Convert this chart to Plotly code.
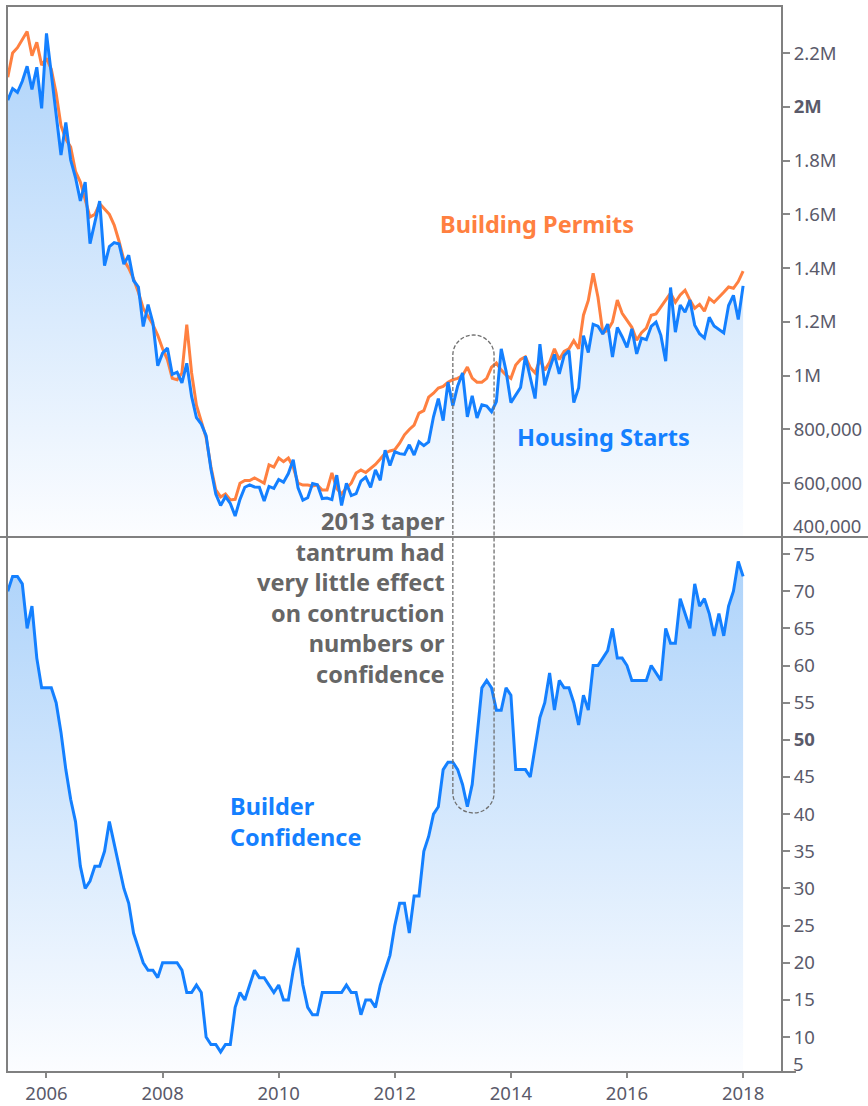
import plotly.graph_objects as go
from plotly.subplots import make_subplots

# ---------------- data (monthly, May 2005 -> Jan 2018) ----------------
START_YEAR = 2005
START_MONTH = 5

# Housing starts, thousands (SAAR)
housing_starts = [
    2025, 2068, 2054, 2095, 2151, 2065, 2147, 1994,
    2273, 2119, 1969, 1821, 1942, 1802, 1737, 1650, 1720, 1491, 1570, 1649,
    1409, 1480, 1495, 1490, 1415, 1448, 1354, 1330, 1183, 1264, 1197, 1037,
    1084, 1103, 1005, 1013, 973, 1046, 923, 844, 820, 777, 652, 560,
    517, 550, 525, 478, 540, 585, 594, 586, 585, 534, 588, 581,
    614, 604, 636, 687, 583, 537, 546, 599, 594, 543, 545, 539,
    630, 517, 600, 554, 561, 608, 623, 585, 650, 611, 723, 666,
    717, 710, 707, 743, 705, 754, 740, 754, 847, 915, 833, 976,
    888, 962, 1010, 847, 925, 843, 892, 887, 866, 904, 1100, 1017,
    900, 928, 956, 1072, 999, 915, 1117, 964, 1026, 1079, 1007, 1075,
    1093, 900, 954, 1149, 1086, 1191, 1184, 1155, 1192, 1069, 1179, 1145,
    1105, 1174, 1081, 1140, 1134, 1183, 1199, 1150, 1054, 1328, 1162, 1263,
    1236, 1281, 1188, 1156, 1140, 1217, 1185, 1172, 1159, 1261, 1299, 1209,
    1334,
]

# Building permits, thousands (SAAR)
building_permits = [
    2110, 2200, 2220, 2250, 2280, 2190, 2240, 2155,
    2180, 2140, 2050, 1930, 1880, 1850, 1760, 1720, 1650, 1590, 1600, 1640,
    1620, 1600, 1560, 1500, 1430, 1400, 1360, 1310, 1250, 1220, 1190, 1150,
    1100, 1060, 990, 985, 1010, 1190, 1010, 890, 825, 770, 660, 575,
    549, 560, 538, 540, 600, 610, 610, 620, 610, 600, 668, 660,
    694, 680, 694, 660, 600, 593, 593, 590, 593, 575, 575, 638,
    580, 560, 582, 600, 638, 649, 640, 656, 670, 690, 712, 720,
    725, 749, 780, 800, 816, 861, 870, 920, 935, 954, 960, 976,
    985, 990, 1000, 1032, 991, 976, 976, 990, 1032, 1047, 1021, 1002,
    990, 1040, 1060, 1070, 1030, 1010, 1060, 1020, 1050, 1100, 1060, 1090,
    1100, 1130, 1100, 1225, 1280, 1381, 1292, 1160, 1169, 1200, 1281, 1232,
    1206, 1180, 1132, 1160, 1177, 1225, 1230, 1255, 1280, 1307, 1273, 1300,
    1318, 1281, 1251, 1265, 1240, 1288, 1273, 1290, 1310, 1330, 1325, 1350,
    1389,
]

# NAHB builder confidence index
builder_confidence = [
    70, 72, 72, 71, 65, 68, 61, 57,
    57, 57, 55, 51, 46, 42, 39, 33, 30, 31, 33, 33,
    35, 39, 36, 33, 30, 28, 24, 22, 20, 19, 19, 18,
    20, 20, 20, 20, 19, 16, 16, 17, 16, 10, 9, 9,
    8, 9, 9, 14, 16, 15, 17, 19, 18, 18, 17, 16,
    17, 15, 15, 19, 22, 17, 14, 13, 13, 16, 16, 16,
    16, 16, 17, 16, 16, 13, 15, 15, 14, 17, 19, 21,
    25, 28, 28, 24, 29, 29, 35, 37, 40, 41, 46, 47,
    47, 46, 44, 41, 44, 51, 57, 58, 57, 54, 54, 57,
    56, 46, 46, 46, 45, 49, 53, 55, 59, 54, 58, 57,
    57, 55, 52, 56, 54, 60, 60, 61, 62, 65, 61, 61,
    60, 58, 58, 58, 58, 60, 59, 58, 65, 63, 63, 69,
    67, 65, 71, 68, 69, 67, 64, 67, 64, 68, 70, 74,
    72,
]

x_tick_years = [2006, 2008, 2010, 2012, 2014, 2016, 2018]
top_tick_vals = [600, 800, 1000, 1200, 1400, 1600, 1800, 2000, 2200]
top_tick_text = ["600,000", "800,000", "1M", "1.2M", "1.4M", "1.6M", "1.8M", "<b>2M</b>", "2.2M"]
bot_tick_vals = [10, 15, 20, 25, 30, 35, 40, 45, 50, 55, 60, 65, 70, 75]
bot_tick_text = [("<b>50</b>" if v == 50 else str(v)) for v in bot_tick_vals]

months = [START_YEAR + (START_MONTH - 1 + i) / 12 for i in range(len(housing_starts))]

# ---------------- style ----------------
BLUE = "#1480ff"
ORANGE = "#ff8040"
GRAY_TXT = "#666666"
TICK_COL = "#5a5a6a"
FRAME = "#808080"
FONT = "Noto Sans"

X_RANGE = [2005.32, 2018.67]
TOP_RANGE = [400, 2375]
BOT_RANGE = [5.3, 77.3]
SPLIT = 535 / 1066

fig = make_subplots(rows=2, cols=1, shared_xaxes=True, vertical_spacing=0)

grad = [[0, "#fcfdff"], [1, "#aad1fa"]]
LW = 3

# top panel: fill under housing starts, then permits line, then starts line
fig.add_trace(go.Scatter(x=months, y=housing_starts, mode="lines", line=dict(width=0, color=BLUE),
                         fill="tozeroy",
                         fillgradient=dict(type="vertical", colorscale=grad,
                                           start=TOP_RANGE[0], stop=TOP_RANGE[1]),
                         showlegend=False, hoverinfo="skip"), row=1, col=1)
fig.add_trace(go.Scatter(x=months, y=building_permits, mode="lines",
                         line=dict(width=LW, color=ORANGE), name="Building Permits",
                         showlegend=False), row=1, col=1)
fig.add_trace(go.Scatter(x=months, y=housing_starts, mode="lines",
                         line=dict(width=LW, color=BLUE), name="Housing Starts",
                         showlegend=False), row=1, col=1)

# bottom panel
fig.add_trace(go.Scatter(x=months, y=builder_confidence, mode="lines",
                         line=dict(width=LW, color=BLUE), fill="tozeroy",
                         fillgradient=dict(type="vertical", colorscale=grad,
                                           start=BOT_RANGE[0], stop=BOT_RANGE[1]),
                         name="Builder Confidence", showlegend=False), row=2, col=1)

tickfont = dict(family=FONT, size=18.5, color=TICK_COL)

fig.update_xaxes(range=X_RANGE, showgrid=False, zeroline=False, showline=False, automargin=False)
fig.update_xaxes(showticklabels=False, ticks="", row=1, col=1)
fig.update_xaxes(tickvals=x_tick_years, ticktext=[str(y) for y in x_tick_years],
                 ticks="outside", ticklen=5, tickwidth=1.5, tickcolor="#888888",
                 tickfont=tickfont, row=2, col=1)

fig.update_layout(
    yaxis=dict(domain=[SPLIT, 1], side="right", range=TOP_RANGE, tickvals=top_tick_vals,
               ticktext=top_tick_text, ticks="outside", ticklen=7, tickwidth=1.5,
               tickcolor="#888888", tickfont=tickfont, showgrid=False, zeroline=False,
               automargin=False),
    yaxis2=dict(domain=[0, SPLIT], side="right", range=BOT_RANGE, tickvals=bot_tick_vals,
                ticktext=bot_tick_text, ticks="outside", ticklen=7, tickwidth=1.5,
                tickcolor="#888888", tickfont=tickfont, showgrid=False, zeroline=False,
                automargin=False),
)

# edge tick labels shifted inside the panel as in the original
fig.add_annotation(text="400,000", x=1, xref="paper", xanchor="left", xshift=9,
                   y=SPLIT, yref="paper", yanchor="middle", yshift=12,
                   showarrow=False, font=tickfont)
fig.add_annotation(text="5", x=1, xref="paper", xanchor="left", xshift=9,
                   y=0, yref="paper", yanchor="middle", yshift=9,
                   showarrow=False, font=tickfont)

# series labels
bold = dict(family=FONT, size=23.5)
fig.add_annotation(text="<b>Building Permits</b>", x=2014.45, y=1564, xref="x", yref="y",
                   showarrow=False, font=dict(bold, color=ORANGE))
fig.add_annotation(text="<b>Housing Starts</b>", x=2015.59, y=772, xref="x", yref="y",
                   showarrow=False, font=dict(bold, color=BLUE))
fig.add_annotation(text="<b>Builder<br>Confidence</b>", x=2009.12, y=39.0, xref="x2", yref="y2",
                   xanchor="left", align="left", showarrow=False, font=dict(bold, color=BLUE))
fig.add_annotation(text="<b>2013 taper<br>tantrum had<br>very little effect<br>on contruction<br>numbers or<br>confidence</b>",
                   x=2012.90, y=(1072 - 597) / 1066, xref="x", yref="paper",
                   xanchor="right", align="right", showarrow=False,
                   font=dict(bold, color=GRAY_TXT))

# dashed rounded highlight around 2013
x0, x1 = 2013.00, 2013.71
yT, yB = (1072 - 335) / 1066, (1072 - 813) / 1066
rx = (x1 - x0) / 2
ry = 20 / 1066
xc = (x0 + x1) / 2
k = 0.5523
path = (
    f"M {x0},{yB + ry} L {x0},{yT - ry} "
    f"C {x0},{yT - ry + k * ry} {xc - k * rx},{yT} {xc},{yT} "
    f"C {xc + k * rx},{yT} {x1},{yT - ry + k * ry} {x1},{yT - ry} "
    f"L {x1},{yB + ry} "
    f"C {x1},{yB + ry - k * ry} {xc + k * rx},{yB} {xc},{yB} "
    f"C {xc - k * rx},{yB} {x0},{yB + ry - k * ry} {x0},{yB + ry} Z"
)
fig.add_shape(type="path", path=path, xref="x", yref="paper",
              line=dict(color="#707070", width=1.3, dash="4px,2px"))

# frame and divider
fig.add_shape(type="rect", x0=0, x1=1, y0=0, y1=1, xref="paper", yref="paper",
              line=dict(color=FRAME, width=2))
fig.add_shape(type="line", x0=-0.01, x1=1.12, y0=SPLIT, y1=SPLIT, xref="paper", yref="paper",
              line=dict(color=FRAME, width=2))
fig.add_shape(type="line", x0=0, x1=1.018, y0=0, y1=0, xref="paper", yref="paper",
              line=dict(color=FRAME, width=2))

fig.update_layout(
    width=868, height=1106,
    margin=dict(l=7, r=86, t=6, b=34, autoexpand=False),
    paper_bgcolor="white", plot_bgcolor="white",
    showlegend=False,
    font=dict(family=FONT),
)

fig.write_html("out.html")
